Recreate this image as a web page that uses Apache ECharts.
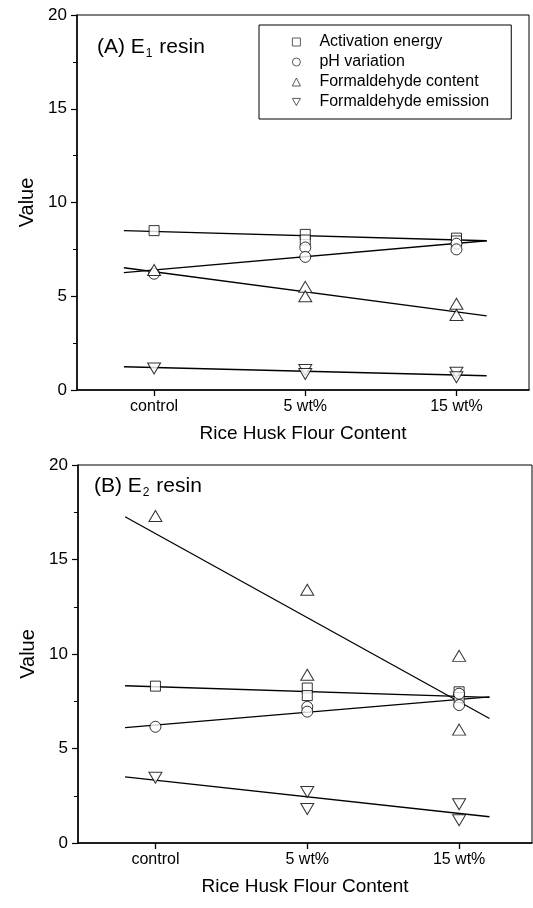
<!DOCTYPE html>
<html>
<head>
<meta charset="utf-8">
<script src="https://cdn.jsdelivr.net/npm/echarts@6/dist/echarts.min.js"></script>
<style>
  html, body { margin: 0; padding: 0; background: #fff; }
  #chart { width: 533px; height: 908px; }
</style>
</head>
<body>
<div id="chart"></div>
<script>
  // categories on the x axis (placed at 0, 1, 2)
  const categories = ['control', '5 wt%', '15 wt%'];
  const seriesNames = ['Activation energy', 'pH variation', 'Formaldehyde content', 'Formaldehyde emission'];

  // panel A, E1 resin : points per category
  const a_energy = [[8.5], [8.3, 8.0], [8.1, 7.95]];
  const a_ph = [[6.2], [7.6, 7.1], [7.8, 7.5]];
  const a_content = [[6.4], [5.5, 5.0], [4.6, 4.0]];
  const a_emission = [[1.15], [1.07, 0.85], [0.92, 0.68]];

  // panel B, E2 resin
  const b_energy = [[8.3], [8.2, 7.8], [8.0, 7.7]];
  const b_ph = [[6.15], [7.2, 6.95], [7.9, 7.3]];
  const b_content = [[17.3], [13.4, 8.9], [9.9, 6.0]];
  const b_emission = [[3.45], [2.7, 1.8], [2.05, 1.2]];

  // fitted lines, values at the two ends
  const fitX = [-0.2, 2.2];
  const a_fitEnergy = [8.5, 7.96];
  const a_fitPh = [6.26, 7.96];
  const a_fitContent = [6.52, 3.95];
  const a_fitEmission = [1.24, 0.76];
  const b_fitEnergy = [8.32, 7.7];
  const b_fitPh = [6.1, 7.73];
  const b_fitContent = [17.26, 6.59];
  const b_fitEmission = [3.5, 1.39];

  const font = 'Liberation Sans, Arial, Helvetica, sans-serif';
  const downTriangle = 'path://M0,0L10,0L5,9Z';

  let chart = echarts.init(document.getElementById('chart'));

  let toPoints = (arr) => {
    let pts = [];
    arr.forEach((vals, i) => {
      vals.forEach((v) => pts.push([i, v]));
    });
    return pts;
  };

  let symbols = [
    { symbol: 'rect', size: 10, rotate: 0 },
    { symbol: 'circle', size: 11, rotate: 0 },
    { symbol: 'triangle', size: [13, 11], rotate: 0 },
    { symbol: 'triangle', size: [13, 11], rotate: 180 }
  ];

  let scatter = (idx, data, name) => ({
    type: 'scatter',
    name: name,
    xAxisIndex: idx,
    yAxisIndex: idx,
    symbol: symbols[seriesNames.indexOf(name)].symbol,
    symbolSize: symbols[seriesNames.indexOf(name)].size,
    symbolRotate: symbols[seriesNames.indexOf(name)].rotate,
    itemStyle: { color: '#fff', borderColor: '#000', borderWidth: 1 },
    data: toPoints(data),
    z: 3
  });

  let fitLine = (idx, ends) => ({
    type: 'line',
    name: 'fit',
    xAxisIndex: idx,
    yAxisIndex: idx,
    showSymbol: false,
    silent: true,
    lineStyle: { color: '#000', width: 1.3 },
    data: ends.map((v, i) => [fitX[i], v]),
    z: 2
  });

  let xAxis = (idx) => ({
    type: 'value',
    gridIndex: idx,
    min: -0.51,
    max: 2.48,
    name: 'Rice Husk Flour Content',
    nameLocation: 'middle',
    nameGap: 34,
    nameTextStyle: { fontSize: 19, color: '#000', fontFamily: font },
    axisLine: { onZero: false, lineStyle: { color: '#000', width: 1.5 } },
    axisTick: { show: true, customValues: [0, 1, 2], length: 6, lineStyle: { color: '#000', width: 1.3 } },
    axisLabel: {
      customValues: [0, 1, 2],
      formatter: (v) => categories[Math.round(v)],
      fontSize: 16,
      color: '#000',
      fontFamily: font,
      margin: 9
    },
    splitLine: { show: false }
  });

  let yAxis = (idx) => ({
    type: 'value',
    gridIndex: idx,
    min: 0,
    max: 20,
    interval: 5,
    name: 'Value',
    nameLocation: 'middle',
    nameGap: 40,
    nameTextStyle: { fontSize: 20, color: '#000', fontFamily: font },
    axisLine: { show: true, onZero: false, lineStyle: { color: '#000', width: 1.5 } },
    axisTick: { show: true, length: 6, lineStyle: { color: '#000', width: 1.2 } },
    minorTick: { show: true, splitNumber: 2, length: 4, lineStyle: { color: '#000', width: 1 } },
    axisLabel: { fontSize: 17, color: '#000', fontFamily: font, margin: 10 },
    splitLine: { show: false }
  });

  let titleRich = {
    t: { fontSize: 21, color: '#000', fontFamily: font, fontWeight: 'normal', lineHeight: 26 },
    sub: { fontSize: 12, color: '#000', fontFamily: font, fontWeight: 'normal', padding: [14, 1, 0, 1], lineHeight: 26 }
  };

  let option = {
    backgroundColor: '#fff',
    animation: false,
    title: [
      { text: '{t|(A) E}{sub|1}{t| resin}', left: 92, top: 29, textStyle: { fontWeight: 'normal', rich: titleRich } },
      { text: '{t|(B) E}{sub|2}{t| resin}', left: 89, top: 468, textStyle: { fontWeight: 'normal', rich: titleRich } }
    ],
    legend: {
      data: [
        { name: seriesNames[0], icon: 'rect' },
        { name: seriesNames[1], icon: 'circle' },
        { name: seriesNames[2], icon: 'triangle' },
        { name: seriesNames[3], icon: downTriangle }
      ],
      orient: 'vertical',
      left: 259,
      top: 25,
      padding: [9, 22, 9, 33],
      itemWidth: 8,
      itemHeight: 8,
      itemGap: 4,
      borderColor: '#000',
      borderWidth: 1,
      itemStyle: { color: '#fff', borderColor: '#000', borderWidth: 0.8 },
      formatter: (name) => '{n|' + name + '}',
      textStyle: {
        fontSize: 16, lineHeight: 16, color: '#000', fontFamily: font,
        rich: { n: { fontSize: 16, lineHeight: 16, color: '#000', fontFamily: font, padding: [0, 0, 0, 14] } }
      }
    },
    grid: [
      { left: 77, right: 4, top: 15, bottom: 518, show: true, borderColor: '#000', borderWidth: 1, backgroundColor: 'transparent' },
      { left: 78, right: 1, top: 465, bottom: 65, show: true, borderColor: '#000', borderWidth: 1, backgroundColor: 'transparent' }
    ],
    xAxis: [xAxis(0), xAxis(1)],
    yAxis: [yAxis(0), yAxis(1)],
    series: [
      fitLine(0, a_fitEnergy),
      fitLine(0, a_fitPh),
      fitLine(0, a_fitContent),
      fitLine(0, a_fitEmission),
      scatter(0, a_energy, seriesNames[0]),
      scatter(0, a_ph, seriesNames[1]),
      scatter(0, a_content, seriesNames[2]),
      scatter(0, a_emission, seriesNames[3]),
      fitLine(1, b_fitEnergy),
      fitLine(1, b_fitPh),
      fitLine(1, b_fitContent),
      fitLine(1, b_fitEmission),
      scatter(1, b_energy, seriesNames[0]),
      scatter(1, b_ph, seriesNames[1]),
      scatter(1, b_content, seriesNames[2]),
      scatter(1, b_emission, seriesNames[3])
    ]
  };

  chart.setOption(option);
</script>
</body>
</html>
